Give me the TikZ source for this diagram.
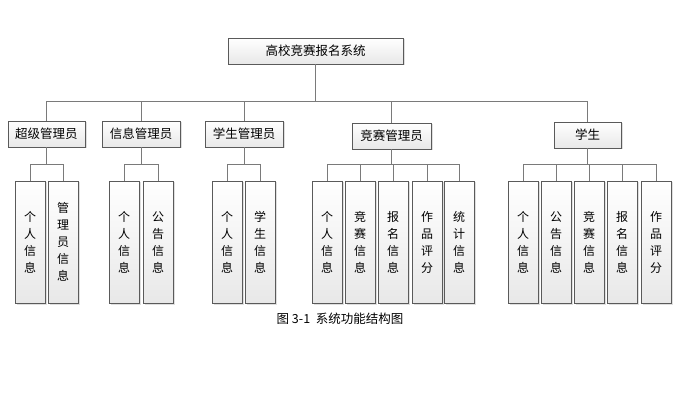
\documentclass[tikz,border=0pt]{standalone}
\usepackage{fontspec}
\newfontfamily\cjk{Noto Sans CJK SC}
\usepackage{tikz}
\usetikzlibrary{shadows}
\definecolor{boxline}{HTML}{5a5a5a}
\definecolor{wireline}{HTML}{7a7a7a}

\begin{document}
\begin{tikzpicture}[x=1pt, y=-1pt,
  box/.style={draw=boxline, line width=0.9pt, top color=white, bottom color=gray!18,
    drop shadow={opacity=0.25, shadow xshift=1.5pt, shadow yshift=-1.5pt},
    font=\cjk\fontsize{12.5}{14}\selectfont, inner sep=0pt, minimum height=26pt},
  leaf/.style={box, minimum width=30pt, minimum height=122pt, align=center,
    font=\cjk\fontsize{12}{17}\selectfont},
  wire/.style={draw=wireline, line width=0.9pt}]

  % bounding box
  \useasboundingbox (0,0) rectangle (689,409);

  % top box
  \node [box, minimum width=175pt] (sys) at (315.5, 51) {高校竞赛报名系统};

  % second level
  \node [box, minimum width=77pt] (super) at (46.5, 134) {超级管理员};
  \node [box, minimum width=78pt] (info) at (141, 134) {信息管理员};
  \node [box, minimum width=78pt] (stuadm) at (244, 134) {学生管理员};
  \node [box, minimum width=79pt] (comp) at (391.5, 136) {竞赛管理员};
  \node [box, minimum width=67pt] (stu) at (587.5, 135) {学生};

  % leaves of super
  \node [leaf] (s1) at (30, 242) {个\\人\\信\\息};
  \node [leaf] (s2) at (63, 242) {管\\理\\员\\信\\息};

  % leaves of info
  \node [leaf] (i1) at (124, 242) {个\\人\\信\\息};
  \node [leaf] (i2) at (158, 242) {公\\告\\信\\息};

  % leaves of stuadm
  \node [leaf] (a1) at (227, 242) {个\\人\\信\\息};
  \node [leaf] (a2) at (260, 242) {学\\生\\信\\息};

  % leaves of comp
  \node [leaf] (c1) at (327, 242) {个\\人\\信\\息};
  \node [leaf] (c2) at (360, 242) {竞\\赛\\信\\息};
  \node [leaf] (c3) at (393, 242) {报\\名\\信\\息};
  \node [leaf] (c4) at (427, 242) {作\\品\\评\\分};
  \node [leaf] (c5) at (459, 242) {统\\计\\信\\息};

  % leaves of stu
  \node [leaf] (t1) at (523, 242) {个\\人\\信\\息};
  \node [leaf] (t2) at (556, 242) {公\\告\\信\\息};
  \node [leaf] (t3) at (589, 242) {竞\\赛\\信\\息};
  \node [leaf] (t4) at (622, 242) {报\\名\\信\\息};
  \node [leaf] (t5) at (656, 242) {作\\品\\评\\分};

  % bus lines
  \coordinate (bus) at (315, 101);
  \coordinate (sub) at (315, 164);

  % top to second level
  \draw [wire] (sys.south) -- (sys.south |- bus);
  \draw [wire] (super.north) -- (super.north |- bus) -- (stu.north |- bus) -- (stu.north);
  \draw [wire] (info.north) -- (info.north |- bus);
  \draw [wire] (stuadm.north) -- (stuadm.north |- bus);
  \draw [wire] (comp.north) -- (comp.north |- bus);

  % second level to leaves
  \draw [wire] (super.south) -- (super.south |- sub);
  \draw [wire] (s1.north) -- (s1.north |- sub) -- (s2.north |- sub) -- (s2.north);
  \draw [wire] (info.south) -- (info.south |- sub);
  \draw [wire] (i1.north) -- (i1.north |- sub) -- (i2.north |- sub) -- (i2.north);
  \draw [wire] (stuadm.south) -- (stuadm.south |- sub);
  \draw [wire] (a1.north) -- (a1.north |- sub) -- (a2.north |- sub) -- (a2.north);
  \draw [wire] (comp.south) -- (comp.south |- sub);
  \draw [wire] (c1.north) -- (c1.north |- sub) -- (c5.north |- sub) -- (c5.north);
  \draw [wire] (c2.north) -- (c2.north |- sub);
  \draw [wire] (c3.north) -- (c3.north |- sub);
  \draw [wire] (c4.north) -- (c4.north |- sub);
  \draw [wire] (stu.south) -- (stu.south |- sub);
  \draw [wire] (t1.north) -- (t1.north |- sub) -- (t5.north |- sub) -- (t5.north);
  \draw [wire] (t2.north) -- (t2.north |- sub);
  \draw [wire] (t3.north) -- (t3.north |- sub);
  \draw [wire] (t4.north) -- (t4.north |- sub);

  % caption
  \node [font=\cjk\fontsize{12.5}{14}\selectfont] (cap) at (340, 319) {图 3-1\ \ 系统功能结构图};

\end{tikzpicture}
\end{document}
